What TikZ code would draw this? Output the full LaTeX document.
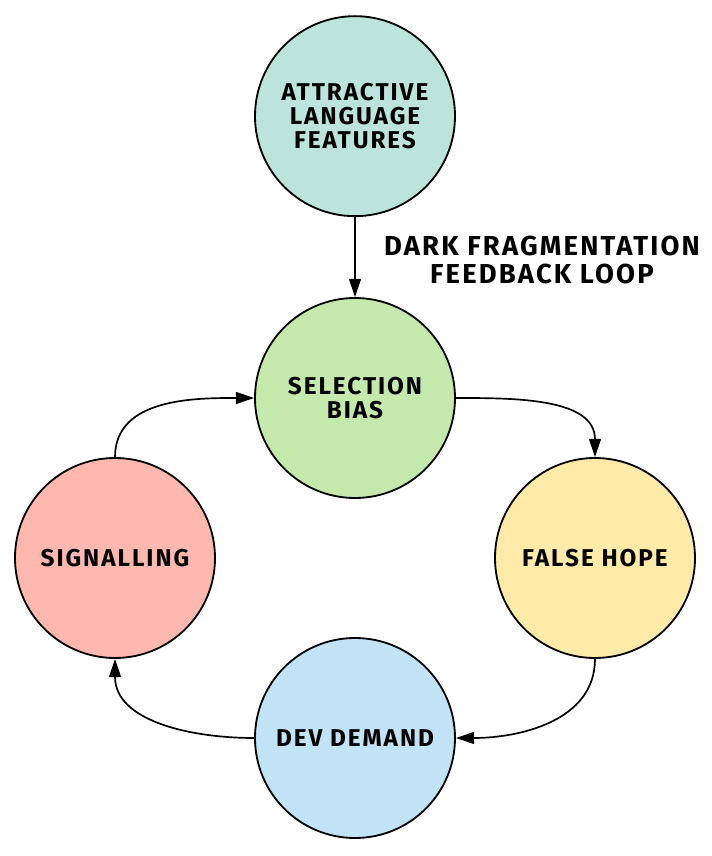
\documentclass[tikz,border=0pt]{standalone}
\usepackage{fontspec}
\setmainfont{Fira Sans}[LetterSpace=8]
\usepackage{tikz}
\usetikzlibrary{arrows.meta,positioning}
\definecolor{teal0}{RGB}{188,228,220}
\definecolor{green0}{RGB}{197,232,172}
\definecolor{yellow0}{RGB}{255,234,168}
\definecolor{blue0}{RGB}{194,227,245}
\definecolor{pink0}{RGB}{255,184,176}
\tikzset{
  stage/.style={circle, draw, line width=1.3pt, minimum size=5cm, inner sep=0pt, align=center,
    font=\fontsize{17.3}{17.2}\selectfont\bfseries},
  caption/.style={align=center, font=\fontsize{19.5}{20}\selectfont\bfseries},
  link/.style={-{Triangle[length=13pt,width=8.5pt]}, line width=1.2pt}
}

\begin{document}
\begin{tikzpicture}
  \useasboundingbox (-8.875,-11.45) rectangle (8.9,9.95);
  \node[stage, fill=green0] (bias) at (0,0) {SELECTION\\BIAS};
  \node[stage, fill=teal0, above=2cm of bias] (features) {ATTRACTIVE\\LANGUAGE\\FEATURES};
  \node[stage, fill=yellow0] (hope) at (6,-4) {FALSE HOPE};
  \node[stage, fill=blue0] (demand) at (0,-8.5) {DEV DEMAND};
  \node[stage, fill=pink0] (signal) at (-6,-4) {SIGNALLING};
  \node[caption] (title) at (4.675,3.45) {DARK FRAGMENTATION\\FEEDBACK LOOP};
  \draw[link] (features) -- (bias);
  \draw[link] (bias.east) to[out=0,in=90] (hope.north);
  \draw[link] (hope.south) to[out=-90,in=0] (demand.east);
  \draw[link] (demand.west) to[out=180,in=-90] (signal.south);
  \draw[link] (signal.north) to[out=90,in=180] (bias.west);
\end{tikzpicture}
\end{document}
